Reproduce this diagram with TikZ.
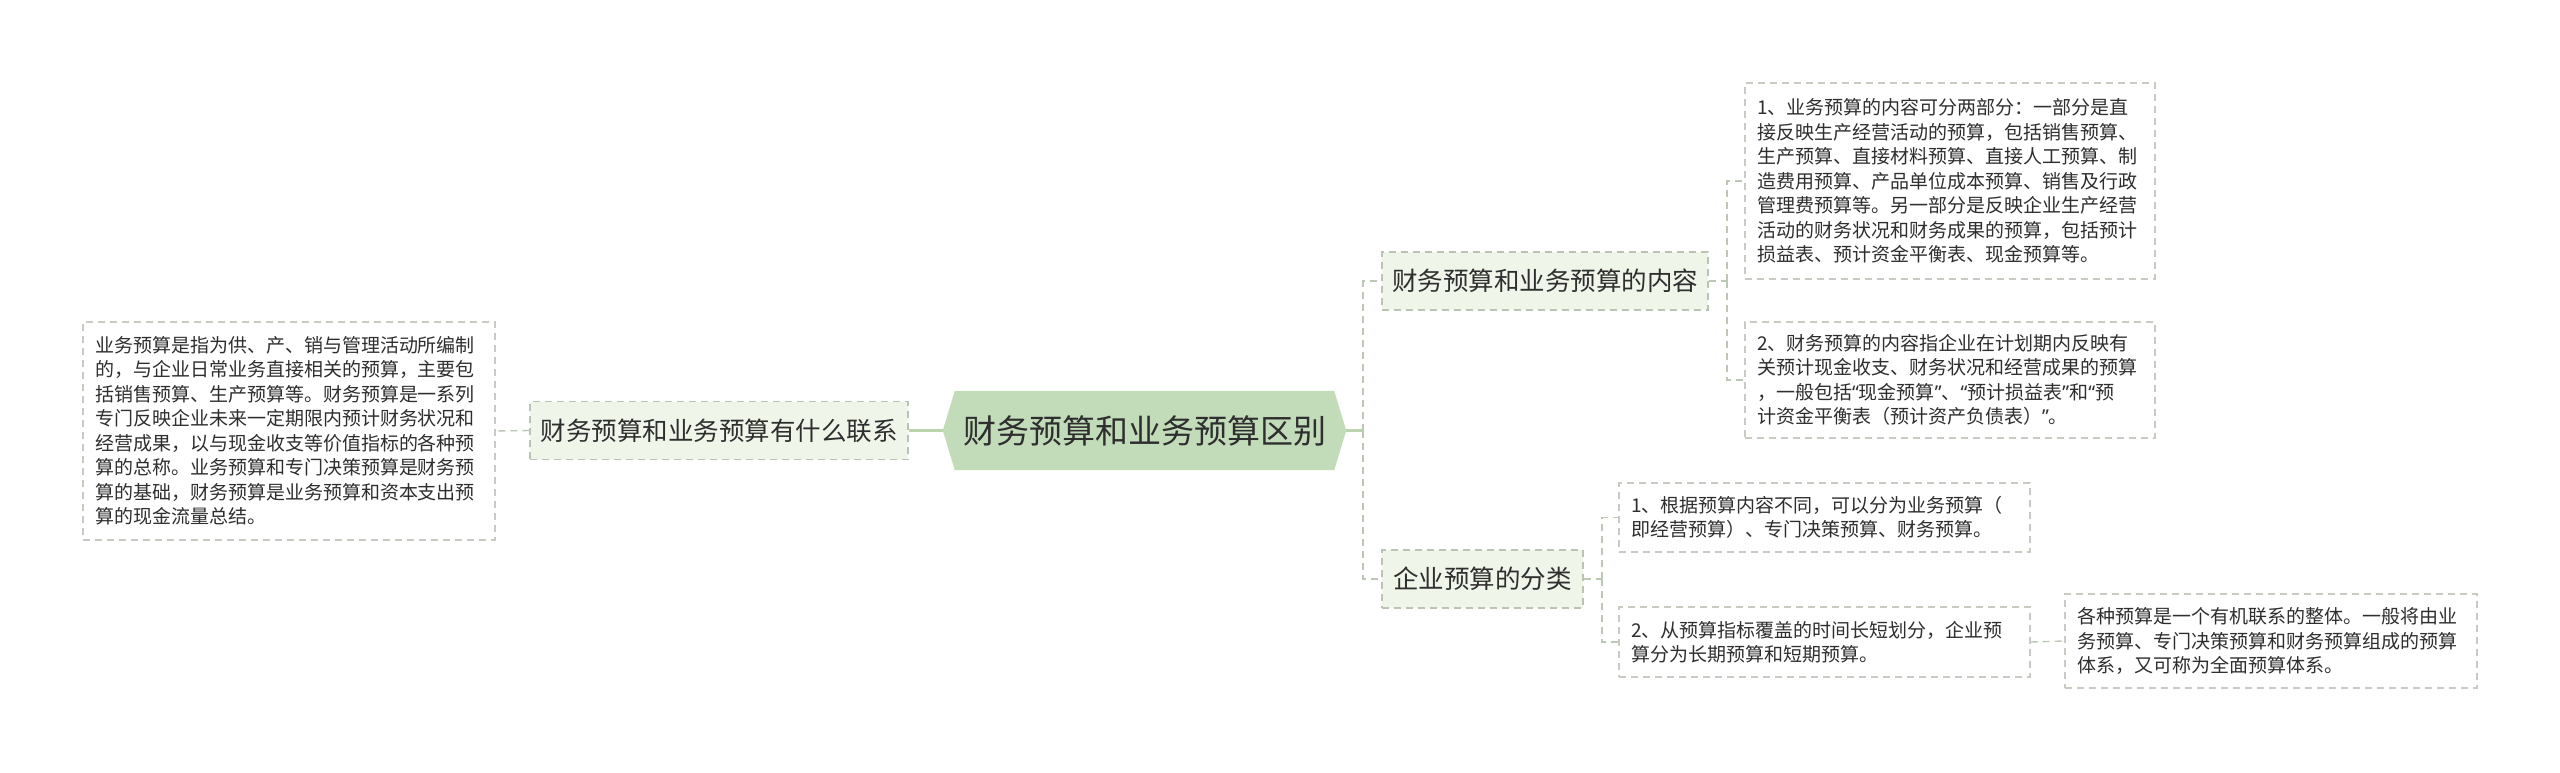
\documentclass[tikz,border=0pt]{standalone}
\usepackage{fontspec}
\newfontfamily\cjk{Noto Sans CJK SC}
\newfontfamily\quotefont{Noto Sans}
\newcommand\oqt{{\quotefont “}}
\newcommand\cqt{{\quotefont ”}}
\usetikzlibrary{backgrounds}
\definecolor{rootfill}{HTML}{C2DBB9}
\definecolor{rootline}{HTML}{BAD4AE}
\definecolor{brfill}{HTML}{EFF5E9}
\definecolor{brdash}{HTML}{B9C4B2}
\definecolor{leafdash}{HTML}{C6CCC2}
\definecolor{conncol}{HTML}{BCC8B4}
\definecolor{txt}{HTML}{2E2E2E}
\setlength\parindent{0pt}
\tikzset{
  leafbox/.style={draw=leafdash, fill=white, line width=1.4pt, dash pattern=on 7pt off 5pt,
    inner xsep=12pt, inner ysep=0pt, align=left, text=txt,
    font=\cjk\fontsize{19pt}{24.5pt}\selectfont},
  branchbox/.style={draw=brdash, fill=brfill, line width=1.4pt, dash pattern=on 7pt off 5pt,
    inner sep=0pt, minimum height=58pt, text=txt,
    font=\cjk\fontsize{25.5pt}{30pt}\selectfont},
  rootbox/.style={inner sep=0pt, minimum width=403pt, minimum height=79pt, text=txt,
    font=\cjk\fontsize{33pt}{40pt}\selectfont},
  conn/.style={draw=conncol, line width=1.4pt, dash pattern=on 7pt off 5pt},
  rootconn/.style={draw=rootline, line width=3pt},
}
\begin{document}
\begin{tikzpicture}[x=1pt,y=-1pt]
\useasboundingbox (0,0) rectangle (2560,773);

% root
\node[rootbox] (root) at (1144.5,430.5) {财务预算和业务预算区别};
\begin{scope}[on background layer]
\fill[white] (0,0) rectangle (2560,773);
\fill[rootfill] (root.west) -- ([xshift=12pt]root.north west) -- ([xshift=-12pt]root.north east)
  -- (root.east) -- ([xshift=-12pt]root.south east) -- ([xshift=12pt]root.south west) -- cycle;
\end{scope}

% left side
\node[branchbox, minimum width=378pt] (lb) at (719,430.5) {财务预算和业务预算有什么联系};
\node[leafbox, text width=388pt, minimum height=218pt] (ll) at (289,431) {业务预算是指为供、产、销与管理活动所编制\\
的，与企业日常业务直接相关的预算，主要包\\
括销售预算、生产预算等。财务预算是一系列\\
专门反映企业未来一定期限内预计财务状况和\\
经营成果，以与现金收支等价值指标的各种预\\
算的总称。业务预算和专门决策预算是财务预\\
算的基础，财务预算是业务预算和资本支出预\\
算的现金流量总结。};

% right branches
\node[branchbox, minimum width=326pt] (b1) at (1545,281) {财务预算和业务预算的内容};
\node[branchbox, minimum width=201pt] (b2) at (1482.5,579) {企业预算的分类};

\node[leafbox, text width=386pt, minimum height=196pt] (r1) at (1950,181) {1、业务预算的内容可分两部分：一部分是直\\
接反映生产经营活动的预算，包括销售预算、\\
生产预算、直接材料预算、直接人工预算、制\\
造费用预算、产品单位成本预算、销售及行政\\
管理费预算等。另一部分是反映企业生产经营\\
活动的财务状况和财务成果的预算，包括预计\\
损益表、预计资金平衡表、现金预算等。};
\node[leafbox, text width=386pt, minimum height=116pt] (r2) at (1950,380) {2、财务预算的内容指企业在计划期内反映有\\
关预计现金收支、财务状况和经营成果的预算\\
，一般包括\oqt 现金预算\cqt 、\oqt 预计损益表\cqt 和\oqt 预\\
计资金平衡表（预计资产负债表）\cqt 。};

\node[leafbox, text width=387pt, minimum height=69pt] (c1) at (1824.5,517.5) {1、根据预算内容不同，可以分为业务预算（\\
即经营预算）、专门决策预算、财务预算。};
\node[leafbox, text width=387pt, minimum height=70pt] (c2) at (1824.5,642) {2、从预算指标覆盖的时间长短划分，企业预\\
算分为长期预算和短期预算。};
\node[leafbox, text width=388pt, minimum height=94pt] (fin) at (2271,641) {各种预算是一个有机联系的整体。一般将由业\\
务预算、专门决策预算和财务预算组成的预算\\
体系，又可称为全面预算体系。};

% connectors
\coordinate (sp) at (1363,430.5);
\coordinate (s1) at (1727,281);
\coordinate (s2) at (1602,579);
\draw[rootconn] (root.west) -- (lb.east);
\draw[conn] (lb.west) -- (ll.east);
\draw[rootconn] (root.east) -- (sp);
\draw[conn] (sp) |- (b1.west);
\draw[conn] (sp) |- (b2.west);
\draw[conn] (b1.east) -- (s1);
\draw[conn] (s1) |- (r1.west);
\draw[conn] (s1) |- (r2.west);
\draw[conn] (b2.east) -- (s2);
\draw[conn] (s2) |- (c1.west);
\draw[conn] (s2) |- (c2.west);
\draw[conn] (c2.east) -- (fin.west);
\end{tikzpicture}
\end{document}
